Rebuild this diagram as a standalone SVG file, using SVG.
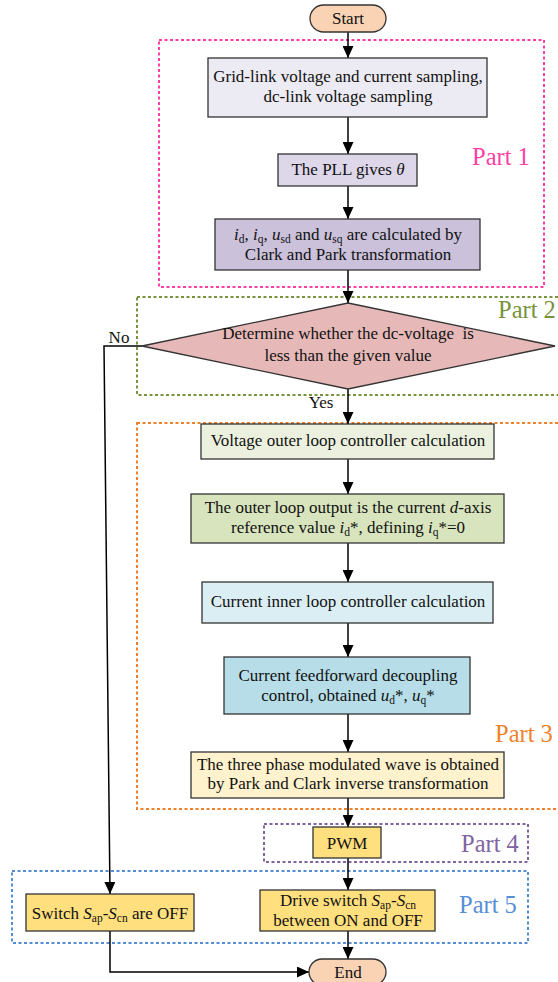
<svg xmlns="http://www.w3.org/2000/svg" width="558" height="982" viewBox="0 0 558 982">
<defs>
<marker id="arr" markerUnits="userSpaceOnUse" markerWidth="12" markerHeight="11" refX="12" refY="5.5" orient="auto">
<path d="M0,0 L12,5.5 L0,11 z" fill="#000"/>
</marker>
<style>
text{font-size:17px;fill:#111;text-anchor:middle}
.box{stroke:#333;stroke-width:1.3}
.conn{fill:none;stroke:#000;stroke-width:1.5;marker-end:url(#arr)}
.part{fill:none;stroke-width:2;stroke-dasharray:3 2.5}
.plabel{font-size:24.5px;text-anchor:start}
.i{font-style:italic}
.sub{font-size:11.5px}
.pre{white-space:pre}
</style>
</defs>
<rect width="558" height="982" fill="#fff"/>
<g font-family="Liberation Serif, Times New Roman, serif">

<g id="part1"><rect class="part" x="159" y="40" width="385" height="247" stroke="#FF3FA4"/><text class="plabel" x="472" y="165" style="fill:#FF3FA4">Part 1</text></g>
<g id="part2"><rect class="part" x="137" y="297" width="440" height="98" stroke="#77933C"/><text class="plabel" x="498" y="318" style="fill:#77933C">Part 2</text></g>
<g id="part3"><rect class="part" x="137" y="423" width="440" height="386" stroke="#F0812A"/><text class="plabel" x="495" y="742" style="fill:#F0812A">Part 3</text></g>
<g id="part4"><rect class="part" x="264" y="824" width="264" height="38" stroke="#8064A2"/><text class="plabel" x="461" y="852" style="fill:#8064A2">Part 4</text></g>
<g id="part5"><rect class="part" x="12" y="871" width="516" height="72" stroke="#558ED5"/><text class="plabel" x="459" y="913" style="fill:#558ED5">Part 5</text></g>

<g id="connectors">
<line class="conn" x1="348" y1="32" x2="348" y2="58"/>
<line class="conn" x1="348" y1="117" x2="348" y2="154"/>
<line class="conn" x1="348" y1="186" x2="348" y2="219"/>
<line class="conn" x1="348" y1="270" x2="348" y2="303"/>
<line class="conn" x1="348" y1="389" x2="348" y2="424"/>
<line class="conn" x1="348" y1="459" x2="348" y2="494"/>
<line class="conn" x1="348" y1="543" x2="348" y2="582"/>
<line class="conn" x1="348" y1="623" x2="348" y2="657"/>
<line class="conn" x1="348" y1="714" x2="348" y2="752"/>
<line class="conn" x1="348" y1="798" x2="348" y2="827"/>
<line class="conn" x1="348" y1="858" x2="348" y2="890"/>
<line class="conn" x1="348" y1="931" x2="348" y2="959"/>
<polyline class="conn" points="142,346 104,346 110,894"/>
<polyline class="conn" points="110,931 110,972 309,972"/>
<text x="119" y="343">No</text>
<text x="321" y="408">Yes</text>
</g>

<g id="start"><rect class="box" x="310" y="5" width="76" height="27" rx="13.5" fill="#F9D3B4"/><text x="348" y="24">Start</text></g>

<g id="sampling"><rect class="box" x="208" y="58" width="279" height="59" fill="#ECEAF2"/><text x="348" y="82">Grid-link voltage and current sampling,</text><text x="348" y="102">dc-link voltage sampling</text></g>

<g id="pll"><rect class="box" x="278" y="154" width="139" height="32" fill="#DDD7E9"/><text x="348" y="175">The PLL gives <tspan class="i">θ</tspan></text></g>

<g id="clarkpark"><rect class="box" x="215" y="219" width="265" height="51" fill="#CBC1DB"/><text x="348" y="240"><tspan class="i">i</tspan><tspan class="sub" dy="3">d</tspan><tspan dy="-3">, </tspan><tspan class="i">i</tspan><tspan class="sub" dy="3">q</tspan><tspan dy="-3">, </tspan><tspan class="i">u</tspan><tspan class="sub" dy="3">sd</tspan><tspan dy="-3"> and </tspan><tspan class="i">u</tspan><tspan class="sub" dy="3">sq</tspan><tspan dy="-3"> are calculated by</tspan></text><text x="348" y="260">Clark and Park transformation</text></g>

<g id="decision"><polygon class="box" points="348,303 555,346 348,389 142,346" fill="#E6B9B8"/><text class="pre" x="348" y="339">Determine whether the dc-voltage  is</text><text x="348" y="361">less than the given value</text></g>

<g id="voltouter"><rect class="box" x="201" y="424" width="293" height="35" fill="#EBF1DE"/><text x="348" y="446">Voltage outer loop controller calculation</text></g>

<g id="outerout"><rect class="box" x="191" y="494" width="313" height="49" fill="#D7E4BD"/><text x="348" y="513">The outer loop output is the current <tspan class="i">d</tspan>-axis</text><text x="348" y="533">reference value <tspan class="i">i</tspan><tspan class="sub" dy="3">d</tspan><tspan dy="-3">*, defining </tspan><tspan class="i">i</tspan><tspan class="sub" dy="3">q</tspan><tspan dy="-3">*=0</tspan></text></g>

<g id="curinner"><rect class="box" x="202" y="582" width="291" height="41" fill="#DBEEF4"/><text x="348" y="607">Current inner loop controller calculation</text></g>

<g id="feedforward"><rect class="box" x="224" y="657" width="246" height="57" fill="#B7DEE8"/><text x="348" y="681">Current feedforward decoupling</text><text x="348" y="701">control, obtained <tspan class="i">u</tspan><tspan class="sub" dy="3">d</tspan><tspan dy="-3">*, </tspan><tspan class="i">u</tspan><tspan class="sub" dy="3">q</tspan><tspan dy="-3">*</tspan></text></g>

<g id="inverse"><rect class="box" x="191" y="752" width="313" height="46" fill="#FFF2CC"/><text x="348" y="770">The three phase modulated wave is obtained</text><text x="348" y="789">by Park and Clark inverse transformation</text></g>

<g id="pwm"><rect class="box" x="313" y="827" width="68" height="31" fill="#FFDF7E"/><text x="347" y="849">PWM</text></g>

<g id="drive"><rect class="box" x="260" y="890" width="175" height="41" fill="#FFDF7E"/><text x="348" y="906">Drive switch <tspan class="i">S</tspan><tspan class="sub" dy="3">ap</tspan><tspan dy="-3">-</tspan><tspan class="i">S</tspan><tspan class="sub" dy="3">cn</tspan></text><text x="348" y="926">between ON and OFF</text></g>

<g id="switchoff"><rect class="box" x="26" y="894" width="168" height="37" fill="#FFDF7E"/><text x="110" y="919">Switch <tspan class="i">S</tspan><tspan class="sub" dy="3">ap</tspan><tspan dy="-3">-</tspan><tspan class="i">S</tspan><tspan class="sub" dy="3">cn</tspan><tspan dy="-3"> are OFF</tspan></text></g>

<g id="end"><rect class="box" x="309" y="959" width="77" height="26" rx="13" fill="#F9D3B4"/><text x="348" y="978">End</text></g>
</g>
</svg>
